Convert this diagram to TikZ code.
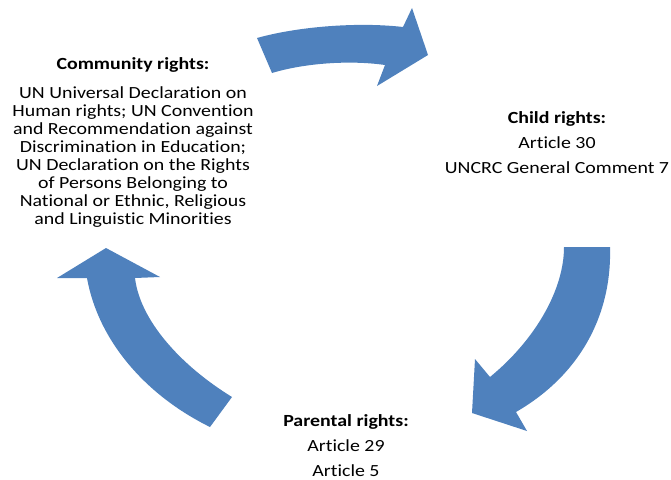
\documentclass[tikz,border=0pt]{standalone}
\usepackage{fontspec}
\setmainfont{Carlito}[FakeStretch=1.17, Ligatures={NoCommon,NoContextual}]
\definecolor{pfeilblau}{HTML}{4F81BD}

\begin{document}
\begin{tikzpicture}[x=0.75pt, y=-0.75pt,
  pfeil/.style={fill=pfeilblau},
  block/.style={align=center, inner sep=0pt, anchor=north, font=\fontsize{12.75}{13.5}\selectfont}]
\useasboundingbox (0,0) rectangle (671,479);

% Pfeile
\fill[pfeil] (257,38) .. controls (300,26) and (360,22) .. (403,27) -- (412,8) -- (428,55) -- (377,86) -- (385,65) .. controls (350,60) and (305,63) .. (272,73) -- cycle; % oben
\fill[pfeil] (564,247) -- (610,247) .. controls (612,315) and (580,375) .. (516,412) -- (527,431) -- (472,413) -- (475,359) -- (490,377) .. controls (535,340) and (564,290) .. (564,247) -- cycle; % rechts
\fill[pfeil] (232,397) -- (210,427) .. controls (145,395) and (98,340) .. (87,278) -- (57,278) -- (106,248) -- (160,277) -- (135,278) .. controls (140,320) and (180,365) .. (232,397) -- cycle; % links

% Texte
\node[block] (community) at (133,57) {\textbf{Community rights:}\\[8.25pt]
  UN Universal Declaration on\\ Human rights; UN Convention\\
  and Recommendation against\\ Discrimination in Education;\\
  UN Declaration on the Rights\\ of Persons Belonging to\\
  National or Ethnic, Religious\\ and Linguistic Minorities};
\node[block] (child) at (557,111) {\textbf{Child rights:}\\[5.25pt] Article 30\\[5.25pt] UNCRC General Comment 7};
\node[block] (parental) at (346,414) {\textbf{Parental rights:}\\[5.25pt] Article 29\\[5.25pt] Article 5};

\end{tikzpicture}
\end{document}
